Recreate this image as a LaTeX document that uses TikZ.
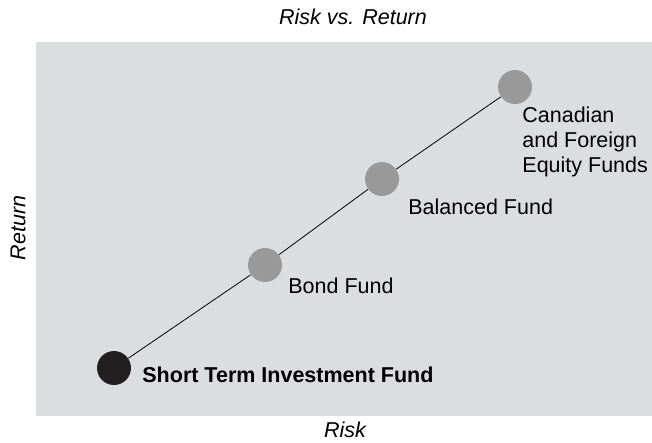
\documentclass[tikz,border=0pt]{standalone}
\usepackage{fontspec}
\setmainfont{Liberation Sans}
\definecolor{panelgray}{HTML}{DCDDDF}
\definecolor{dotgray}{HTML}{999999}
\definecolor{dotblack}{HTML}{231F20}
\begin{document}
\begin{tikzpicture}[x=1pt, y=-1pt, line width=0.8pt,
        fund/.style={circle, fill=dotgray, minimum size=34pt, inner sep=0pt},
        txt/.style={anchor=west, inner sep=0pt, font=\fontsize{21.5}{25}\selectfont, align=left},
        axis/.style={inner sep=0pt, font=\fontsize{21.5}{25}\selectfont\itshape}]
                \useasboundingbox (0, 0) rectangle (652, 442);
                \fill[panelgray] (36, 42) rectangle (652, 416);
                \node[fund, fill=dotblack] (stf) at (114, 368) {};
                \node[fund] (bond) at (265, 265) {};
                \node[fund] (bal) at (382, 179) {};
                \node[fund] (eq) at (515, 87) {};
                \draw (stf) -- (bond);
                \draw (bond) -- (bal);
                \draw (bal) -- (eq);
                \node[txt, font=\fontsize{21.5}{25}\selectfont\bfseries] (stftxt) at (142, 375) {Short Term Investment Fund};
                \node[txt] (bondtxt) at (288, 286) {Bond Fund};
                \node[txt] (baltxt) at (408, 207) {Balanced Fund};
                \node[txt] (eqtxt) at (522, 142) {Canadian\\and Foreign\\Equity Funds};
                \node[axis] (title) at (353, 17) {Risk vs. Return};
                \node[axis] (xlab) at (345, 430) {Risk};
                \node[axis, rotate=90] (ylab) at (18, 228) {Return};
        \end{tikzpicture}
\end{document}
